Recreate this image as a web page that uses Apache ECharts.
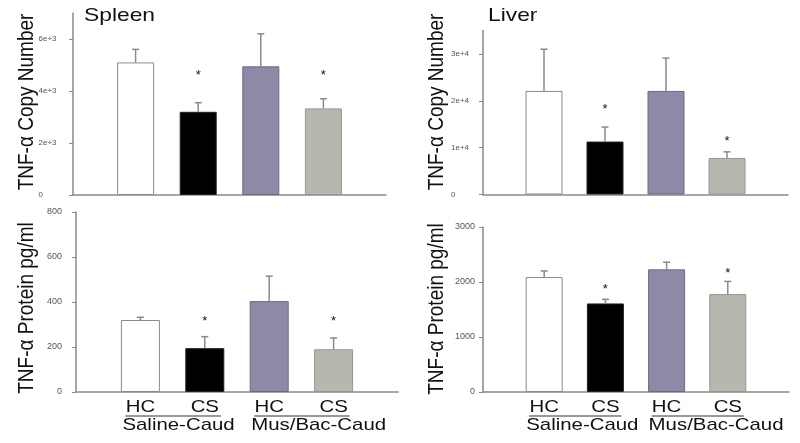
<!DOCTYPE html>
<html><head><meta charset="utf-8">
<script src="https://cdn.jsdelivr.net/npm/echarts@6/dist/echarts.min.js"></script>
<style>html,body{margin:0;padding:0;background:#fff}#c{width:800px;height:443px}</style>
</head><body><div id="c"></div>
<script>
// ---- data ----
const groupLabels = ['HC', 'CS', 'HC', 'CS'];
const conditionLabels = ['Saline-Caud', 'Mus/Bac-Caud'];
const barPositions = [1, 2, 3, 4];
const barColors = ['#ffffff', '#000000', '#8f88a6', '#b7b7af'];
const barBorders = ['#8a8a8a', '#222222', '#6f6888', '#979790'];

const spleenCopyMean = [5100, 3200, 4950, 3330];
const spleenCopySE = [500, 350, 1250, 370];
const spleenCopyStar = [null, 4730, null, 4730];
const spleenCopyTicks = [0, 2000, 4000, 6000];
const spleenCopyTickLabels = ['0', '2e+3', '4e+3', '6e+3'];

const liverCopyMean = [22100, 11300, 22100, 7800];
const liverCopySE = [8900, 3100, 7000, 1300];
const liverCopyStar = [null, 18700, null, 12000];
const liverCopyTicks = [0, 10000, 20000, 30000];
const liverCopyTickLabels = ['0', '1e+4', '2e+4', '3e+4'];

const spleenProtMean = [320, 195, 404, 190];
const spleenProtSE = [12, 51, 111, 50];
const spleenProtStar = [null, 325, null, 325];
const spleenProtTicks = [0, 200, 400, 600, 800];
const spleenProtTickLabels = ['0', '200', '400', '600', '800'];

const liverProtMean = [2090, 1610, 2230, 1780];
const liverProtSE = [110, 75, 130, 230];
const liverProtStar = [null, 1915, null, 2218];
const liverProtTicks = [0, 1000, 2000, 3000];
const liverProtTickLabels = ['0', '1000', '2000', '3000'];

const panelTitles = ['Spleen', 'Liver'];
const yTitles = ['TNF-α Copy Number', 'TNF-α Copy Number', 'TNF-α Protein pg/ml', 'TNF-α Protein pg/ml'];

// ---- layout ----
const panels = [
  {grid: {left: 73, top: 13, width: 313, height: 182}, max: 7000, ticks: spleenCopyTicks, labels: spleenCopyTickLabels, align: 'left', margin: 34.5, fs: 8, barWidth: 37, mean: spleenCopyMean, se: spleenCopySE, star: spleenCopyStar},
  {grid: {left: 483, top: 30.5, width: 305, height: 164}, max: 35000, ticks: liverCopyTicks, labels: liverCopyTickLabels, align: 'left', margin: 32, fs: 8, barWidth: 37, mean: liverCopyMean, se: liverCopySE, star: liverCopyStar},
  {grid: {left: 76, top: 212, width: 322, height: 180}, max: 800, ticks: spleenProtTicks, labels: spleenProtTickLabels, align: 'right', margin: 14, fs: 9, barWidth: 39, mean: spleenProtMean, se: spleenProtSE, star: spleenProtStar},
  {grid: {left: 483, top: 227, width: 306, height: 165}, max: 3000, ticks: liverProtTicks, labels: liverProtTickLabels, align: 'right', margin: 8, fs: 9, barWidth: 37, mean: liverProtMean, se: liverProtSE, star: liverProtStar}
];
const axisColor = '#8a8a8a';
const FONT = 'Liberation Sans, Arial, sans-serif';

const chart = echarts.init(document.getElementById('c'), null, {renderer: 'canvas'});

const option = {
  animation: false,
  backgroundColor: '#ffffff',
  grid: panels.map(p => p.grid),
  xAxis: panels.map((p, i) => ({
    type: 'value', gridIndex: i, min: 0, max: 5,
    axisLine: {show: true, onZero: false, lineStyle: {color: axisColor, width: 1.5}},
    axisTick: {show: false}, axisLabel: {show: false}, splitLine: {show: false}
  })),
  yAxis: panels.map((p, i) => ({
    type: 'value', gridIndex: i, min: 0, max: p.max,
    axisLine: {show: true, lineStyle: {color: axisColor, width: 1.5}},
    axisTick: {show: true, length: 4, customValues: p.ticks, lineStyle: {color: axisColor, width: 1}},
    axisLabel: {
      customValues: p.ticks, align: p.align, margin: p.margin,
      fontFamily: FONT, fontSize: p.fs, color: '#555',
      formatter: v => { const k = p.ticks.indexOf(v); return k >= 0 ? p.labels[k] : ''; }
    },
    splitLine: {show: false}
  })),
  series: []
};

panels.forEach((p, i) => {
  option.series.push({
    type: 'bar', xAxisIndex: i, yAxisIndex: i, barWidth: p.barWidth, z: 2,
    data: barPositions.map((x, k) => ({
      value: [x, p.mean[k]],
      itemStyle: {color: barColors[k], borderColor: barBorders[k], borderWidth: 1}
    }))
  });
  option.series.push({
    type: 'custom', xAxisIndex: i, yAxisIndex: i, z: 3,
    data: barPositions.map((x, k) => [x, p.mean[k], p.mean[k] + p.se[k]]),
    encode: {x: 0, y: [1, 2]},
    renderItem: (params, api) => {
      const x = api.value(0);
      const b = api.coord([x, api.value(1)]);
      const t = api.coord([x, api.value(2)]);
      return {type: 'group', children: [
        {type: 'line', shape: {x1: b[0], y1: b[1], x2: t[0], y2: t[1]}, style: {stroke: axisColor, lineWidth: 1.5}},
        {type: 'line', shape: {x1: t[0] - 3.5, y1: t[1], x2: t[0] + 3.5, y2: t[1]}, style: {stroke: axisColor, lineWidth: 1.5}}
      ]};
    }
  });
  option.series.push({
    type: 'custom', xAxisIndex: i, yAxisIndex: i, z: 4,
    data: barPositions.map((x, k) => [x, p.star[k]]).filter(d => d[1] !== null),
    encode: {x: 0, y: 1},
    renderItem: (params, api) => {
      const c = api.coord([api.value(0), api.value(1)]);
      return {type: 'text', style: {text: '*', x: c[0], y: c[1] + 3, align: 'center', verticalAlign: 'middle', font: '13px ' + FONT, fill: '#111'}};
    }
  });
});

chart.setOption(option);

// ---- text annotations positioned via axis conversion ----
const graphics = [];
graphics.push({type: 'text', x: 84, y: 16, scaleX: 1.2, style: {text: panelTitles[0], font: '19px ' + FONT, fill: '#111', align: 'left', verticalAlign: 'middle'}});
graphics.push({type: 'text', x: 488, y: 16, scaleX: 1.2, style: {text: panelTitles[1], font: '19px ' + FONT, fill: '#111', align: 'left', verticalAlign: 'middle'}});
const yTitlePos = [[27, 102], [437, 102], [27, 308], [437, 309]];
yTitles.forEach((t, i) => {
  graphics.push({type: 'text', x: yTitlePos[i][0], y: yTitlePos[i][1], rotation: Math.PI / 2, scaleY: 1.2,
    style: {text: t, font: '19px ' + FONT, fill: '#111', align: 'center', verticalAlign: 'middle'}});
});
[2, 3].forEach(ai => {
  const px = barPositions.map(x => chart.convertToPixel({xAxisIndex: ai}, x));
  groupLabels.forEach((lab, k) => {
    graphics.push({type: 'text', x: px[k], y: 407, scaleX: 1.2, style: {text: lab, font: '17px ' + FONT, fill: '#111', align: 'center', verticalAlign: 'middle'}});
  });
  conditionLabels.forEach((lab, g) => {
    const a = px[2 * g], b = px[2 * g + 1];
    graphics.push({type: 'line', shape: {x1: a - 15, y1: 416, x2: b + 16, y2: 416}, style: {stroke: '#333', lineWidth: 1}});
    graphics.push({type: 'text', x: a - 18, y: 425, scaleX: 1.2, style: {text: lab, font: '17px ' + FONT, fill: '#111', align: 'left', verticalAlign: 'middle'}});
  });
});
chart.setOption({graphic: graphics});
</script>
</body></html>
